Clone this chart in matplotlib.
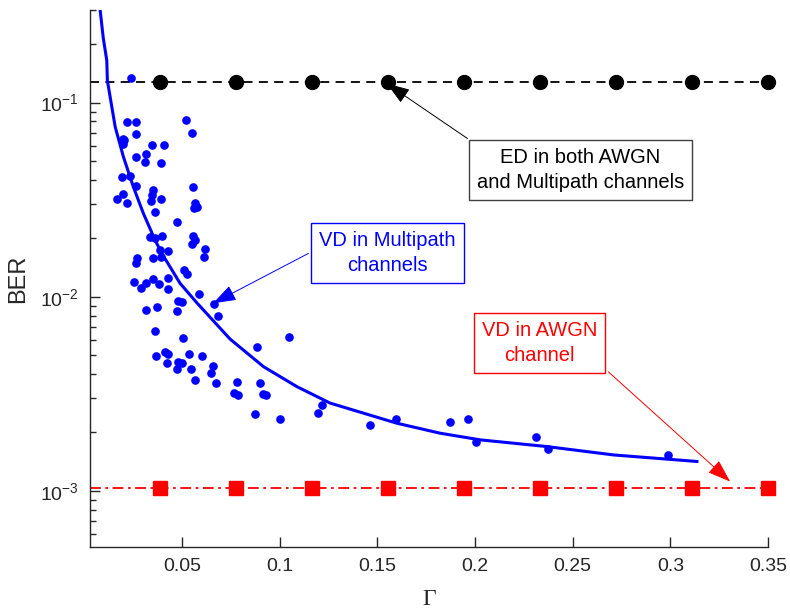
import matplotlib
matplotlib.use('Agg')
import matplotlib.pyplot as plt
from matplotlib.ticker import FixedLocator, LogLocator, NullFormatter

plt.rcParams['font.family'] = ['Liberation Sans', 'DejaVu Sans']
plt.rcParams['mathtext.fontset'] = 'custom'
plt.rcParams['mathtext.rm'] = 'Liberation Sans'

# ED / VD-AWGN reference levels
gamma_levels = [0.0389, 0.0778, 0.1167, 0.1556, 0.1944, 0.2333, 0.2722, 0.3111, 0.35]
ber_ed = [0.1278] * 9
ber_vd_awgn = [1.036e-3] * 9

# VD in multipath: fitted curve
gamma_fit = [0.0082, 0.0098, 0.0116, 0.0119, 0.0159, 0.0201, 0.0252, 0.0303,
             0.0363, 0.0398, 0.0491, 0.0577, 0.0662, 0.0747, 0.0918, 0.1089,
             0.1259, 0.16, 0.1822, 0.2027, 0.2368, 0.271, 0.3136]
ber_fit = [0.30, 0.215, 0.165, 0.130, 0.075, 0.0526, 0.0368, 0.0269,
           0.0196, 0.0167, 0.01172, 0.00930, 0.0075, 0.00605, 0.00436, 0.00344,
           0.00283, 0.00223, 0.00198, 0.00183, 0.00169, 0.00153, 0.001416]

# VD in multipath: measured points
gamma_pts = [0.0241, 0.0219, 0.0266, 0.0263, 0.0522, 0.0554, 0.0198, 0.0205, 0.0198, 0.0348,
             0.0408, 0.0263, 0.0317, 0.0311, 0.0394, 0.0194, 0.0235, 0.0266, 0.0198, 0.0169,
             0.0220, 0.0355, 0.0346, 0.0341, 0.0394, 0.0362, 0.0559, 0.0570, 0.0563, 0.0580,
             0.0477, 0.0338, 0.0363, 0.0401, 0.0559, 0.0567, 0.0551, 0.0619, 0.0614, 0.0389,
             0.0431, 0.0273, 0.0352, 0.0394, 0.0265, 0.0513, 0.0529, 0.0257, 0.0290, 0.0316,
             0.0352, 0.0384, 0.0431, 0.0431, 0.0589, 0.0483, 0.0500, 0.0667, 0.0684, 0.0317,
             0.0372, 0.0474, 0.0365, 0.0508, 0.0885, 0.1046, 0.0368, 0.0413, 0.0428, 0.0536,
             0.0605, 0.0423, 0.0480, 0.0500, 0.0474, 0.0549, 0.0660, 0.0648, 0.0568, 0.0674,
             0.0781, 0.0899, 0.0766, 0.0790, 0.0913, 0.0930, 0.0875, 0.1003, 0.1196, 0.1217,
             0.1465, 0.1595, 0.1873, 0.1962, 0.2008, 0.2312, 0.2375, 0.2990]
ber_pts = [0.1346, 0.0796, 0.0790, 0.0690, 0.0818, 0.0698, 0.0653, 0.0640, 0.0611, 0.0603,
           0.0608, 0.0522, 0.0543, 0.0493, 0.0488, 0.0413, 0.0421, 0.0370, 0.0340, 0.0317,
           0.0305, 0.0354, 0.0334, 0.0310, 0.0318, 0.0274, 0.0368, 0.0305, 0.0287, 0.0290,
           0.0243, 0.0202, 0.0200, 0.0206, 0.0206, 0.0196, 0.0187, 0.0177, 0.0161, 0.0174,
           0.0172, 0.0159, 0.0158, 0.0161, 0.0149, 0.0137, 0.0131, 0.01186, 0.01112, 0.01172,
           0.01233, 0.01167, 0.01244, 0.01091, 0.01029, 0.00950, 0.00936, 0.00917, 0.00798, 0.00851,
           0.00888, 0.00844, 0.00668, 0.00611, 0.00553, 0.00622, 0.00497, 0.00519, 0.00505, 0.00509,
           0.00495, 0.00454, 0.00460, 0.00457, 0.00425, 0.00425, 0.00440, 0.00405, 0.00371, 0.00360,
           0.00363, 0.00358, 0.00320, 0.00311, 0.00316, 0.00313, 0.00248, 0.00235, 0.00251, 0.00276,
           0.00219, 0.00234, 0.00226, 0.00233, 0.00179, 0.00189, 0.00164, 0.00153]

xticks = [0.05, 0.1, 0.15, 0.2, 0.25, 0.3, 0.35]
xtick_labels = ['0.05', '0.1', '0.15', '0.2', '0.25', '0.3', '0.35']

dark = '#262626'

fig = plt.figure(figsize=(7.9, 6.11), dpi=100)
ax = fig.add_axes([0.1139, 0.1052, 0.8583, 0.8784])

# ED line
ax.axhline(ber_ed[0], color='black', ls=(0, (5, 3.5)), lw=1.3, zorder=2)
ax.plot(gamma_levels, ber_ed, 'o', color='black', ms=10, clip_on=False, zorder=3)

# VD in AWGN line
ax.axhline(ber_vd_awgn[0], color='red', ls=(0, (6, 2.5, 1.5, 2.5)), lw=1.3, zorder=2)
ax.plot(gamma_levels, ber_vd_awgn, 's', color='red', ms=9.5, clip_on=False, zorder=3)

# VD in multipath
ax.plot(gamma_pts, ber_pts, 'o', color='blue', ms=5.2, zorder=3)
ax.plot(gamma_fit, ber_fit, '-', color='blue', lw=2.2, zorder=4, solid_joinstyle='round')

ax.set_yscale('log')
ax.set_xlim(0.003, 0.35)
ax.set_ylim(5.15e-4, 0.3)

ax.xaxis.set_major_locator(FixedLocator(xticks))
ax.set_xticklabels(xtick_labels)
ax.yaxis.set_major_locator(LogLocator(base=10, numticks=10))
ax.yaxis.set_minor_locator(LogLocator(base=10, subs=range(2, 10), numticks=20))
ax.yaxis.set_minor_formatter(NullFormatter())

for s in ['top', 'right']:
    ax.spines[s].set_visible(False)
for s in ['left', 'bottom']:
    ax.spines[s].set_color(dark)
    ax.spines[s].set_linewidth(1.0)

ax.tick_params(which='major', direction='in', length=7.5, width=1, color=dark,
               labelcolor=dark, labelsize=14, pad=8)
ax.tick_params(which='minor', direction='in', length=4, width=1, color=dark)

ax.set_ylabel('BER', fontsize=17, color=dark, labelpad=8)
ax.set_xlabel('\u0393', fontsize=17, color=dark, family=['Liberation Serif', 'DejaVu Serif'],
              labelpad=10)

# annotations
arrow_style = '-|>,head_length=0.8,head_width=0.28'
box_font = 14.5
box_style = 'square,pad=0.4'

ax.annotate('', xy=(0.1549, 0.1254), xytext=(0.1962, 0.0653),
            arrowprops=dict(arrowstyle=arrow_style, color='black', lw=0.7,
                            mutation_scale=18, shrinkA=0, shrinkB=0),
            zorder=5)
ax.text(0.2540, 0.0451, 'ED in both AWGN\nand Multipath channels', ha='center', va='center',
        fontsize=box_font, color='black', linespacing=1.4,
        bbox=dict(boxstyle=box_style, fc='white', ec='#404040', lw=1), zorder=6)

ax.annotate('', xy=(0.066, 0.00925), xytext=(0.1148, 0.01672),
            arrowprops=dict(arrowstyle=arrow_style, color='blue', lw=0.7,
                            mutation_scale=18, shrinkA=0, shrinkB=0),
            zorder=5)
ax.text(0.1553, 0.0168, 'VD in Multipath\nchannels', ha='center', va='center',
        fontsize=box_font, color='blue', linespacing=1.4,
        bbox=dict(boxstyle=box_style, fc='white', ec='blue', lw=1), zorder=6)

ax.annotate('', xy=(0.3306, 1.116e-3), xytext=(0.2683, 0.0041),
            arrowprops=dict(arrowstyle=arrow_style, color='red', lw=0.7,
                            mutation_scale=18, shrinkA=0, shrinkB=0),
            zorder=5)
ax.text(0.2330, 0.00579, 'VD in AWGN\nchannel', ha='center', va='center',
        fontsize=box_font, color='red', linespacing=1.4,
        bbox=dict(boxstyle=box_style, fc='white', ec='red', lw=1), zorder=6)

fig.savefig('out.png', dpi=100)
